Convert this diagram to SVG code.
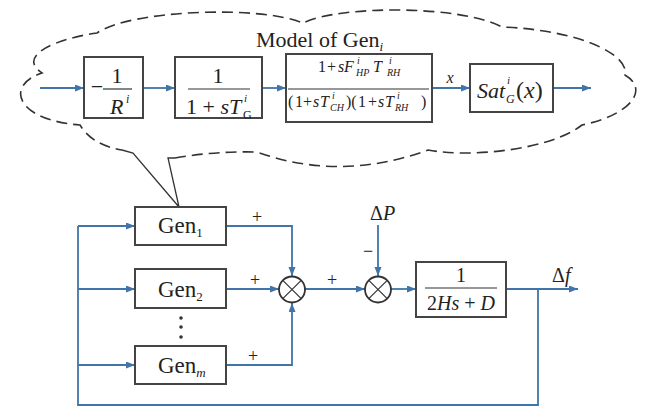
<svg xmlns="http://www.w3.org/2000/svg" width="645" height="409" viewBox="0 0 645 409">
<defs>
<style>
.blk{fill:#fff;stroke:#444;stroke-width:2}
.ln{fill:none;stroke:#4174a8;stroke-width:1.8}
.fr{stroke:#333;stroke-width:1.2}
.t{font-family:"Liberation Serif","Times New Roman",serif;fill:#222}
.it{font-style:italic}
.cloud{fill:none;stroke:#333;stroke-width:1.6;stroke-dasharray:11 6}
.tail{fill:none;stroke:#333;stroke-width:1.3}
.sum{fill:#fff;stroke:#333;stroke-width:1.8}
</style>
<marker id="ah" markerUnits="userSpaceOnUse" markerWidth="10" markerHeight="8" refX="9" refY="3.5" orient="auto">
<path d="M0,0 L9,3.5 L0,7 z" fill="#4174a8"/>
</marker>
</defs>
<rect width="645" height="409" fill="#fff"/>

<g id="cloud">
<path class="cloud" d="M175,158 Q215,151 257,152 Q340,182 428,150 C470,158 550,150 582,125 C630,115 650,90 625,75 C630,55 580,30 502,27 C460,5 340,5 303,23 C260,5 130,10 97,33 C60,38 15,55 42,73 C5,85 15,120 80,125 Q92,145 122,150"/>
<path class="tail" d="M122,150 L133,153 L179,207 L168,158 L175,158"/>
<text class="t" x="256" y="47" font-size="22">Model of Gen<tspan class="it" font-size="13" dy="4">i</tspan></text>
</g>

<g id="connectors">
<line class="ln" x1="40" y1="88" x2="84" y2="88" marker-end="url(#ah)"/>
<line class="ln" x1="143" y1="88" x2="175" y2="88" marker-end="url(#ah)"/>
<line class="ln" x1="262" y1="88" x2="286" y2="88" marker-end="url(#ah)"/>
<line class="ln" x1="432" y1="88" x2="470" y2="88" marker-end="url(#ah)"/>
<line class="ln" x1="553" y1="88" x2="591" y2="88" marker-end="url(#ah)"/>
<line class="ln" x1="78" y1="226" x2="135" y2="226" marker-end="url(#ah)"/>
<line class="ln" x1="78" y1="289" x2="135" y2="289" marker-end="url(#ah)"/>
<line class="ln" x1="78" y1="365" x2="135" y2="365" marker-end="url(#ah)"/>
<path class="ln" d="M538,289 L538,405 L78,405 L78,226"/>
<path class="ln" d="M226,226 L292,226 L292,276" marker-end="url(#ah)"/>
<line class="ln" x1="226" y1="289" x2="279" y2="289" marker-end="url(#ah)"/>
<path class="ln" d="M226,365 L292,365 L292,303" marker-end="url(#ah)"/>
<line class="ln" x1="305" y1="289" x2="365" y2="289" marker-end="url(#ah)"/>
<line class="ln" x1="378" y1="225" x2="378" y2="276" marker-end="url(#ah)"/>
<line class="ln" x1="391" y1="289" x2="416" y2="289" marker-end="url(#ah)"/>
<line class="ln" x1="506" y1="289" x2="578" y2="289" marker-end="url(#ah)"/>
<text class="t it" x="450" y="83" font-size="16" text-anchor="middle">x</text>
<text class="t" x="257" y="223" font-size="18" text-anchor="middle">+</text>
<text class="t" x="255" y="286" font-size="18" text-anchor="middle">+</text>
<text class="t" x="253" y="362" font-size="18" text-anchor="middle">+</text>
<text class="t" x="332" y="286" font-size="18" text-anchor="middle">+</text>
<text class="t" x="368" y="257" font-size="18" text-anchor="middle">−</text>
<text class="t" x="370" y="220" font-size="20">Δ<tspan class="it">P</tspan></text>
<text class="t" x="552" y="282" font-size="20">Δ<tspan class="it">f</tspan></text>
</g>

<g id="b1">
<rect class="blk" x="84" y="57" width="59" height="61"/>
<text class="t" x="97" y="94" font-size="22" text-anchor="middle">−</text>
<line class="fr" x1="103" y1="89" x2="132" y2="89"/>
<text class="t" x="117" y="83" font-size="22" text-anchor="middle">1</text>
<text class="t it" x="110" y="114" font-size="22">R</text>
<text class="t it" x="126" y="103" font-size="12">i</text>
</g>

<g id="b2">
<rect class="blk" x="175" y="57" width="87" height="61"/>
<text class="t" x="218" y="83" font-size="22" text-anchor="middle">1</text>
<line class="fr" x1="188" y1="89" x2="250" y2="89"/>
<text class="t" x="186" y="114" font-size="22">1 + <tspan class="it">sT</tspan></text>
<text class="t it" x="244" y="102" font-size="11">i</text>
<text class="t" x="243" y="119" font-size="12">G</text>
</g>

<g id="b3">
<rect class="blk" x="286" y="54" width="146" height="68"/>
<text class="t" x="318" y="72" font-size="16">1</text>
<text class="t" x="327" y="72" font-size="16">+</text>
<text class="t it" x="338" y="72" font-size="16">s</text>
<text class="t it" x="344" y="72" font-size="16">F</text>
<text class="t it" x="357" y="64" font-size="10">i</text>
<text class="t it" x="356" y="76" font-size="10">HP</text>
<text class="t it" x="373" y="72" font-size="16">T</text>
<text class="t it" x="389" y="64" font-size="10">i</text>
<text class="t it" x="387" y="76" font-size="10">RH</text>
<line class="fr" x1="288" y1="89" x2="429" y2="89"/>
<text class="t" x="288" y="107" font-size="16">(</text>
<text class="t" x="295" y="107" font-size="16">1</text>
<text class="t" x="303" y="107" font-size="16">+</text>
<text class="t it" x="313" y="107" font-size="16">s</text>
<text class="t it" x="320" y="107" font-size="16">T</text>
<text class="t it" x="332" y="99" font-size="10">i</text>
<text class="t it" x="330" y="111" font-size="10">CH</text>
<text class="t" x="346" y="107" font-size="16">)(</text>
<text class="t" x="358" y="107" font-size="16">1</text>
<text class="t" x="368" y="107" font-size="16">+</text>
<text class="t it" x="378" y="107" font-size="16">s</text>
<text class="t it" x="385" y="107" font-size="16">T</text>
<text class="t it" x="397" y="99" font-size="10">i</text>
<text class="t it" x="395" y="111" font-size="10">RH</text>
<text class="t" x="421" y="107" font-size="16">)</text>
</g>

<g id="b4">
<rect class="blk" x="470" y="64" width="83" height="48"/>
<text class="t it" x="477" y="98" font-size="22">Sat</text>
<text class="t it" x="507" y="84" font-size="11">i</text>
<text class="t it" x="506" y="103" font-size="12">G</text>
<text class="t" x="516" y="98" font-size="24">(<tspan class="it">x</tspan>)</text>
</g>

<g id="gen1">
<rect class="blk" x="135" y="207" width="91" height="38"/>
<text class="t" x="158" y="233" font-size="23">Gen<tspan font-size="13" dy="4">1</tspan></text>
</g>
<g id="gen2">
<rect class="blk" x="135" y="269" width="91" height="39"/>
<text class="t" x="158" y="297" font-size="23">Gen<tspan font-size="13" dy="4">2</tspan></text>
</g>
<g id="dots">
<circle cx="181" cy="318" r="1.8" fill="#333"/>
<circle cx="181" cy="327" r="1.8" fill="#333"/>
<circle cx="181" cy="337" r="1.8" fill="#333"/>
</g>
<g id="genm">
<rect class="blk" x="135" y="346" width="91" height="38"/>
<text class="t" x="158" y="373" font-size="23">Gen<tspan class="it" font-size="13" dy="4">m</tspan></text>
</g>

<g id="sum1">
<circle class="sum" cx="292" cy="289.5" r="13"/>
<path class="fr" d="M282.8,280.3 L301.2,298.7 M301.2,280.3 L282.8,298.7" stroke-width="1.6"/>
</g>
<g id="sum2">
<circle class="sum" cx="378" cy="289.5" r="13"/>
<path class="fr" d="M368.8,280.3 L387.2,298.7 M387.2,280.3 L368.8,298.7" stroke-width="1.6"/>
</g>

<g id="plant">
<rect class="blk" x="416" y="262" width="90" height="55"/>
<text class="t" x="461" y="282" font-size="20" text-anchor="middle">1</text>
<line class="fr" x1="425" y1="288" x2="497" y2="288"/>
<text class="t" x="461" y="310" font-size="20" text-anchor="middle">2<tspan class="it">Hs</tspan> + <tspan class="it">D</tspan></text>
</g>
</svg>
